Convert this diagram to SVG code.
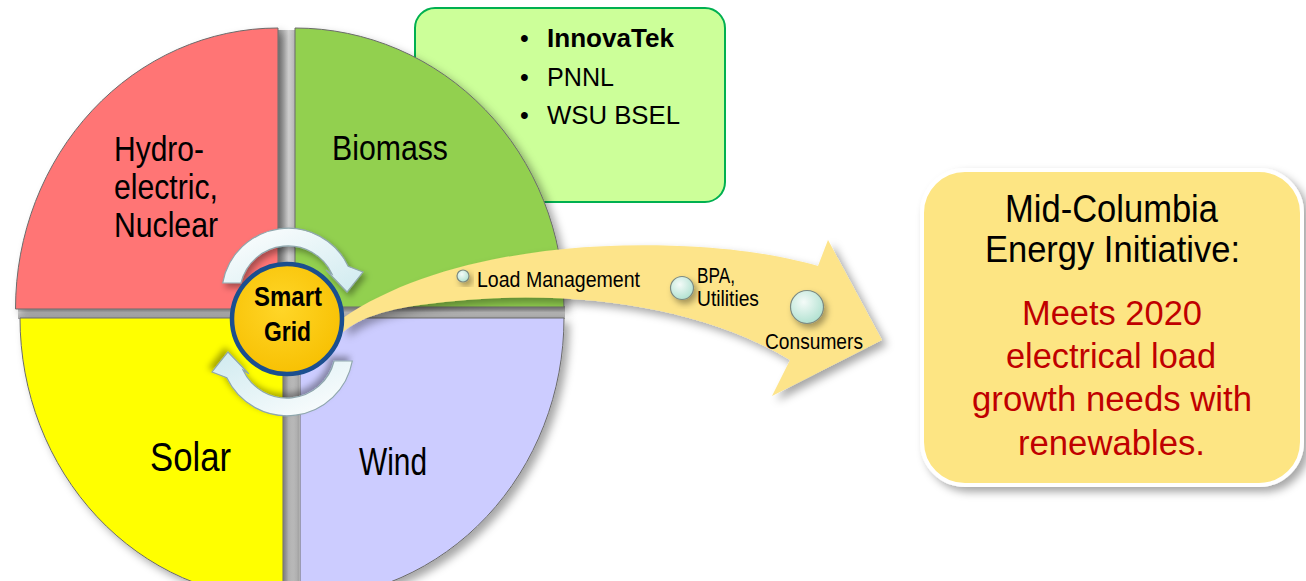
<svg xmlns="http://www.w3.org/2000/svg" width="1306" height="581" viewBox="0 0 1306 581">
<style>
.t{font-family:"Liberation Sans",Arial,sans-serif;fill:#000}
.q{stroke:#6b6b6b;stroke-width:1}
.lbl{font-size:22px}
.red{fill:#C00000}
.bub{fill:url(#bubG);stroke:#7d8a80;stroke-width:1.2}
.carrow{fill:url(#arrG);stroke:#8fa7ad;stroke-width:1.2}
</style>
<defs>
<filter id="sh" x="-20%" y="-20%" width="150%" height="150%">
<feDropShadow dx="5" dy="5" stdDeviation="4" flood-color="#000" flood-opacity="0.35"/>
</filter>
<filter id="shs" x="-30%" y="-30%" width="170%" height="170%">
<feDropShadow dx="3" dy="4" stdDeviation="3" flood-color="#000" flood-opacity="0.35"/>
</filter>
<linearGradient id="gapV" x1="0" y1="0" x2="1" y2="0">
<stop offset="0" stop-color="#9a9a9a"/><stop offset="0.5" stop-color="#d4d4d4"/><stop offset="1" stop-color="#a8a8a8"/>
</linearGradient>
<linearGradient id="gapH" x1="0" y1="0" x2="0" y2="1">
<stop offset="0" stop-color="#9a9a9a"/><stop offset="0.5" stop-color="#d4d4d4"/><stop offset="1" stop-color="#a8a8a8"/>
</linearGradient>
<radialGradient id="bubG" cx="0.4" cy="0.35" r="0.7">
<stop offset="0" stop-color="#f4fbf8"/><stop offset="1" stop-color="#aee0cf"/>
</radialGradient>
<linearGradient id="arrG" x1="0" y1="0" x2="1" y2="1">
<stop offset="0" stop-color="#ffffff"/><stop offset="1" stop-color="#cfeaef"/>
</linearGradient>
<radialGradient id="sgG" cx="0.45" cy="0.4" r="0.65">
<stop offset="0" stop-color="#ffd628"/><stop offset="1" stop-color="#f7bf00"/>
</radialGradient>
</defs>

<g id="partners">
<rect x="415" y="8" width="310" height="194" rx="20" fill="#CCFF99" stroke="#00B050" stroke-width="2"/>
<text class="t" x="520" y="47" font-size="25">•</text>
<text class="t" x="547" y="47" font-size="26" font-weight="bold" textLength="127" lengthAdjust="spacingAndGlyphs">InnovaTek</text>
<text class="t" x="520" y="86" font-size="25">•</text>
<text class="t" x="547" y="86" font-size="26" textLength="67" lengthAdjust="spacingAndGlyphs">PNNL</text>
<text class="t" x="520" y="124" font-size="25">•</text>
<text class="t" x="547" y="124" font-size="26" textLength="133" lengthAdjust="spacingAndGlyphs">WSU BSEL</text>
</g>

<g id="gaps">
<rect x="278" y="30" width="21" height="560" fill="url(#gapV)"/>
<rect x="18" y="306" width="547" height="13" fill="url(#gapH)"/>
</g>

<g id="hydro">
<path class="q" filter="url(#sh)" d="M278,309 L15.5,309 A262.5,281 0 0 1 278,28 Z" fill="#FF7575"/>
<text class="t" x="114" y="161" font-size="35" textLength="90" lengthAdjust="spacingAndGlyphs">Hydro-</text>
<text class="t" x="114" y="199" font-size="35" textLength="104" lengthAdjust="spacingAndGlyphs">electric,</text>
<text class="t" x="114" y="237" font-size="35" textLength="104" lengthAdjust="spacingAndGlyphs">Nuclear</text>
</g>
<g id="biomass">
<path class="q" filter="url(#sh)" d="M295,307 L295,28 A269,279 0 0 1 564,307 Z" fill="#92D050"/>
<text class="t" x="332" y="160" font-size="35" textLength="116" lengthAdjust="spacingAndGlyphs">Biomass</text>
</g>
<g id="solar">
<path class="q" filter="url(#sh)" d="M283,318 L20,318 A263,281 0 0 0 283,599 Z" fill="#FFFF00"/>
<text class="t" x="150" y="471" font-size="40" textLength="81" lengthAdjust="spacingAndGlyphs">Solar</text>
</g>
<g id="wind">
<path class="q" filter="url(#sh)" d="M300,318 L564,318 A264,281 0 0 1 300,599 Z" fill="#CCCCFF"/>
<text class="t" x="359" y="475" font-size="39" textLength="68" lengthAdjust="spacingAndGlyphs">Wind</text>
</g>

<g id="connectors">
<path id="flow-arrow" filter="url(#sh)" fill="#FDE48A" d="M343,318 C425,262 560,238 700,247 C760,251 798,260 818,266 L828,240 L882,340 L772,396 L790,360 C700,305 560,285 420,305 C385,310 360,318 343,332 Z"/>
<path id="cycle-top" class="carrow" filter="url(#shs)" d="M222.7,283 A66.5,66.5 0 0 1 348.3,266.4 L363,272 L347,292 L326,270 L332,274 A48.5,48.5 0 0 0 240.9,283 Z"/>
<path id="cycle-bottom" class="carrow" filter="url(#shs)" transform="rotate(180 287.5 322)" d="M222.7,283 A66.5,66.5 0 0 1 348.3,266.4 L363,272 L347,292 L326,270 L332,274 A48.5,48.5 0 0 0 240.9,283 Z"/>
</g>

<g id="smart-grid">
<circle cx="287" cy="319" r="55" fill="url(#sgG)" stroke="#1B4F8F" stroke-width="4.5"/>
<text class="t" x="254" y="306" font-size="27" font-weight="bold" textLength="68" lengthAdjust="spacingAndGlyphs">Smart</text>
<text class="t" x="264" y="341" font-size="27" font-weight="bold" textLength="47" lengthAdjust="spacingAndGlyphs">Grid</text>
</g>

<g id="load-management">
<circle class="bub" cx="463" cy="276" r="6" filter="url(#shs)"/>
<text class="t lbl" x="477" y="287" textLength="163" lengthAdjust="spacingAndGlyphs">Load Management</text>
</g>
<g id="bpa-utilities">
<circle class="bub" cx="682" cy="288" r="11.5" filter="url(#shs)"/>
<text class="t lbl" x="697" y="283" textLength="38" lengthAdjust="spacingAndGlyphs">BPA,</text>
<text class="t lbl" x="697" y="306" textLength="62" lengthAdjust="spacingAndGlyphs">Utilities</text>
</g>
<g id="consumers">
<circle class="bub" cx="807" cy="307" r="16.5" filter="url(#shs)"/>
<text class="t lbl" x="765" y="349" textLength="98" lengthAdjust="spacingAndGlyphs">Consumers</text>
</g>

<g id="initiative">
<rect x="922" y="170" width="380" height="315" rx="43" fill="#FDE583" stroke="#ffffff" stroke-width="4" filter="url(#sh)"/>
<text class="t" x="1005" y="222" font-size="38" textLength="213" lengthAdjust="spacingAndGlyphs">Mid-Columbia</text>
<text class="t" x="985" y="262" font-size="36" textLength="255" lengthAdjust="spacingAndGlyphs">Energy Initiative:</text>
<text class="t red" x="1022" y="325" font-size="35" textLength="180" lengthAdjust="spacingAndGlyphs">Meets 2020</text>
<text class="t red" x="1006" y="368" font-size="35" textLength="210" lengthAdjust="spacingAndGlyphs">electrical load</text>
<text class="t red" x="972" y="411" font-size="35" textLength="280" lengthAdjust="spacingAndGlyphs">growth needs with</text>
<text class="t red" x="1018" y="455" font-size="35" textLength="187" lengthAdjust="spacingAndGlyphs">renewables.</text>
</g>
</svg>
